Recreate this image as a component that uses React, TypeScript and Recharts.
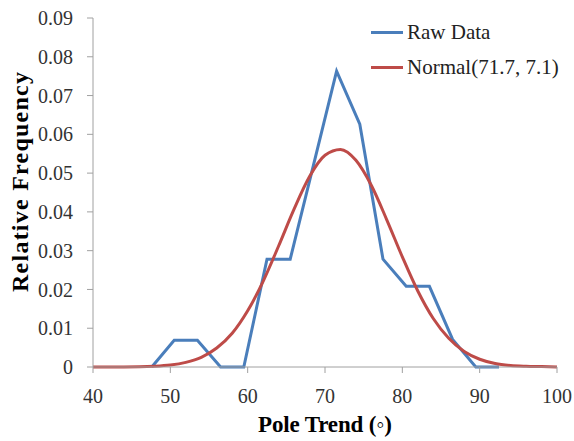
import React from "react";
import { LineChart, Line, XAxis, YAxis, Legend, Label } from "recharts";

// bin centres (degrees) and relative frequency of the measured poles
const rawTrend = [47.6, 50.5, 53.5, 56.5, 59.5, 62.5, 65.5, 68.5, 71.5, 74.5, 77.5, 80.5, 83.5, 86.5, 89.5, 92.5];
const rawFreq = [0, 0.0069, 0.0069, 0, 0, 0.0278, 0.0278, 0.052, 0.0763, 0.0626, 0.0278, 0.0208, 0.0208, 0.0071, 0, 0];

// fitted normal curve
const normalTrend = [40, 44, 48, 50, 52, 54, 56, 58, 60, 62, 64, 66, 68, 70, 72, 74, 76, 78, 80, 82, 84, 86, 88, 90, 92, 94, 96, 98, 100];
const normalFreq = [0, 0, 0.0002, 0.0005, 0.0012, 0.0025, 0.0049, 0.0087, 0.0145, 0.0221, 0.0312, 0.0407, 0.0491, 0.0546, 0.0561, 0.0533, 0.0468, 0.0379, 0.0284, 0.0196, 0.0125, 0.0074, 0.004, 0.002, 0.0009, 0.0004, 0.0002, 0.0001, 0];

const xTicks = [40, 50, 60, 70, 80, 90, 100];
const yTicks = [0, 0.01, 0.02, 0.03, 0.04, 0.05, 0.06, 0.07, 0.08, 0.09];

const seriesNames = ["Raw Data", "Normal(71.7, 7.1)"];
const xTitle = "Pole Trend (◦)";
const yTitle = "Relative Frequency";

const BLUE = "#4a7ebb";
const RED = "#be4b48";
const AXIS = "#a0a0a0";
const FONT = "'Liberation Serif', 'Times New Roman', serif";

const rawRows = rawTrend.map((x, i) => ({ x, y: rawFreq[i] }));
const normalRows = normalTrend.map((x, i) => ({ x, y: normalFreq[i] }));

function LegendBox() {
  const items = [
    { name: seriesNames[0], color: BLUE },
    { name: seriesNames[1], color: RED },
  ];
  return (
    <div style={{ fontFamily: FONT, fontSize: 21, color: "#222" }}>
      {items.map((it) => (
        <div key={it.name} style={{ display: "flex", alignItems: "center", height: 35 }}>
          <span style={{ width: 32, height: 3, background: it.color, marginRight: 4 }} />
          <span>{it.name}</span>
        </div>
      ))}
    </div>
  );
}

function YTitle() {
  return (
    <text
      x={28}
      y={182}
      transform="rotate(-90, 28, 182)"
      textAnchor="middle"
      fontFamily={FONT}
      fontSize={24}
      fontWeight="bold"
      fill="#000"
      textLength={220}
      lengthAdjust="spacing"
    >
      {yTitle}
    </text>
  );
}

function XTitle() {
  return (
    <text
      x={325}
      y={432}
      textAnchor="middle"
      fontFamily={FONT}
      fontSize={23}
      fontWeight="bold"
      fill="#000"
      textLength={134}
      lengthAdjust="spacing"
    >
      {xTitle}
    </text>
  );
}

export default function App() {
  return (
    <div style={{ position: "absolute", left: 0, top: 0, background: "#fff" }}>
      <LineChart width={574} height={441} margin={{ top: 18, right: 17, left: 0, bottom: 0 }}>
        <XAxis
          type="number"
          dataKey="x"
          domain={[40, 100]}
          ticks={xTicks}
          height={74}
          stroke={AXIS}
          tickSize={6}
          tickMargin={16}
          tick={{ fill: "#333", fontSize: 20, fontFamily: FONT }}
        >
          <Label content={<XTitle />} />
        </XAxis>
        <YAxis
          type="number"
          domain={[0, 0.09]}
          ticks={yTicks}
          width={93}
          stroke={AXIS}
          tickSize={6}
          tickMargin={14}
          tickFormatter={(v: number) => (v === 0 ? "0" : v.toFixed(2))}
          tick={{ fill: "#333", fontSize: 20, fontFamily: FONT }}
        >
          <Label content={<YTitle />} />
        </YAxis>
        <Legend
          layout="horizontal"
          align="center"
          verticalAlign="middle"
          wrapperStyle={{ top: 15, left: 371, width: 200 }}
          content={<LegendBox />}
        />
        <Line
          data={rawRows}
          dataKey="y"
          name={seriesNames[0]}
          stroke={BLUE}
          strokeWidth={3}
          dot={false}
          isAnimationActive={false}
        />
        <Line
          data={normalRows}
          dataKey="y"
          name={seriesNames[1]}
          type="monotone"
          stroke={RED}
          strokeWidth={3}
          dot={false}
          isAnimationActive={false}
        />
      </LineChart>
    </div>
  );
}
